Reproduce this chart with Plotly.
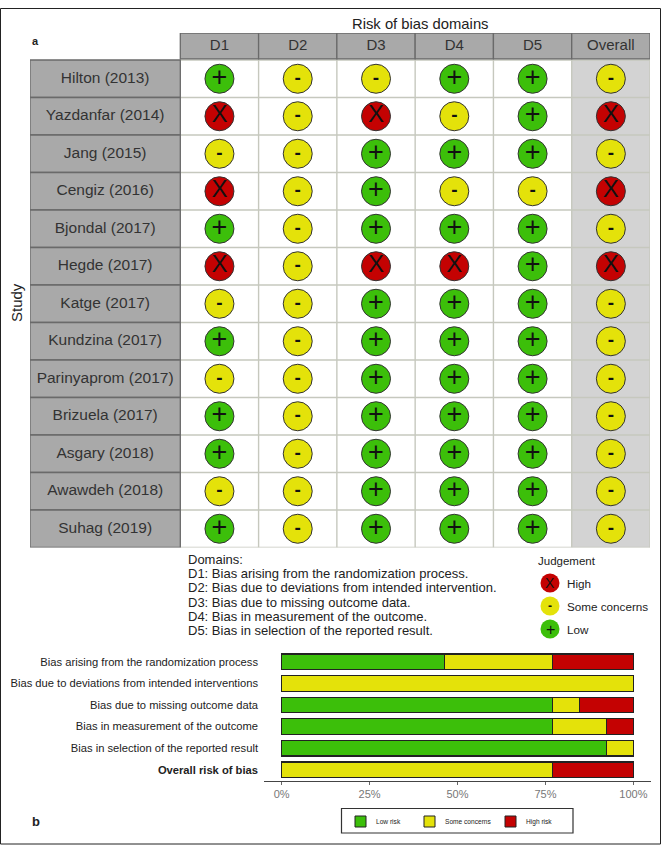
import plotly.graph_objects as go

studies = ["Hilton (2013)", "Yazdanfar (2014)", "Jang (2015)", "Cengiz (2016)", "Bjondal (2017)",
           "Hegde (2017)", "Katge (2017)", "Kundzina (2017)", "Parinyaprom (2017)", "Brizuela (2017)",
           "Asgary (2018)", "Awawdeh (2018)", "Suhag (2019)"]
domains = ["D1", "D2", "D3", "D4", "D5", "Overall"]
d1 = list("+X-X+X-+-++-+")
d2 = list("-------------")
d3 = list("-X+++X+++++++")
d4 = list("+-+-+X+++++++")
d5 = list("+++-+++++++++")
overall = list("-X-X-X-------")
judgements = [d1, d2, d3, d4, d5, overall]

bar_labels = ["Bias arising from the randomization process", "Bias due to deviations from intended interventions",
              "Bias due to missing outcome data", "Bias in measurement of the outcome",
              "Bias in selection of the reported result", "<b>Overall risk of bias</b>"]
low_risk = [46.2, 0, 76.9, 76.9, 92.3, 0]
some_concerns = [30.8, 100, 7.7, 15.4, 7.7, 76.9]
high_risk = [23.0, 0, 15.4, 7.7, 0, 23.1]
pct_ticks = [0, 25, 50, 75, 100]
pct_text = ["0%", "25%", "50%", "75%", "100%"]
domain_text = ["Domains:", "D1: Bias arising from the randomization process.",
               "D2: Bias due to deviations from intended intervention.",
               "D3: Bias due to missing outcome data.", "D4: Bias in measurement of the outcome.",
               "D5: Bias in selection of the reported result."]

W, H = 661, 845
GREEN, YELLOW, RED = "#3CBF0A", "#E4E20A", "#C40202"
FONT = "Liberation Sans"
px = lambda v: v / W
py = lambda v: 1 - v / H

fig = go.Figure()
shapes, annos = [], []

# grid panel geometry in axis units
STUDY_W = 1.92
HEAD_H = 0.72
x_lo, x_hi = -0.5 - STUDY_W, len(domains) - 0.5
y_top, y_bot = -0.5 - HEAD_H, len(studies) - 0.5

def rect(x0, x1, y0, y1, fill, line, lw=1.2, layer="below"):
    shapes.append(dict(type="rect", xref="x", yref="y", x0=x0, x1=x1, y0=y0, y1=y1,
                       fillcolor=fill, line=dict(color=line, width=lw), layer=layer))

# overall column background
rect(len(domains) - 1.5, x_hi, -0.5, y_bot, "#D3D3D3", "#D3D3D3", 0)
# row and column lines
for i in range(len(studies) + 1):
    shapes.append(dict(type="line", xref="x", yref="y", x0=-0.5, x1=x_hi, y0=i - 0.5, y1=i - 0.5,
                       line=dict(color="#C6C8BE", width=1.4), layer="below"))
for j in range(len(domains) + 1):
    shapes.append(dict(type="line", xref="x", yref="y", x0=j - 0.5, x1=j - 0.5, y0=-0.5, y1=y_bot,
                       line=dict(color="#C6C8BE", width=1.4), layer="below"))
# study and header cells
for i in range(len(studies)):
    rect(x_lo, -0.5, i - 0.5, i + 0.5, "#A9A9A9", "#6A6A6A", 1.3)
for j in range(len(domains)):
    rect(j - 0.5, j + 0.5, y_top, -0.53, "#A9A9A9", "#6A6A6A", 1.3)

fig.add_trace(go.Scatter(x=[x_lo + STUDY_W / 2] * len(studies), y=list(range(len(studies))), text=studies,
                         mode="text", textfont=dict(family=FONT, size=15.5, color="#333333"),
                         hoverinfo="skip", showlegend=False, xaxis="x", yaxis="y"))
fig.add_trace(go.Scatter(x=list(range(len(domains))), y=[y_top + HEAD_H / 2 - 0.02] * len(domains), text=domains,
                         mode="text", textfont=dict(family=FONT, size=15, color="#333333"),
                         hoverinfo="skip", showlegend=False, xaxis="x", yaxis="y"))

for sym, col, fsize, label in [("+", GREEN, 27, "+"), ("-", YELLOW, 19, "<b>-</b>"), ("X", RED, 24, "X")]:
    xs, ys = [], []
    for j, colvals in enumerate(judgements):
        for i, v in enumerate(colvals):
            if v == sym:
                xs.append(j)
                ys.append(i)
    fig.add_trace(go.Scatter(x=xs, y=ys, mode="markers+text", text=[label] * len(xs), textposition="middle center",
                             marker=dict(size=29, color=col, line=dict(color="#333333", width=1)),
                             textfont=dict(family=FONT, size=fsize, color="#111111"),
                             showlegend=False, xaxis="x", yaxis="y"))

# stacked bars
for name, vals, col in [("Low risk", low_risk, GREEN), ("Some concerns", some_concerns, YELLOW), ("High risk", high_risk, RED)]:
    fig.add_trace(go.Bar(x=vals, y=bar_labels, orientation="h", name=name, marker=dict(color=col, line=dict(color="#222222", width=1.2)),
                         width=0.72, showlegend=False, xaxis="x2", yaxis="y2"))

fig.update_layout(
    width=W, height=H, margin=dict(l=0, r=0, t=0, b=0), paper_bgcolor="white", plot_bgcolor="white",
    barmode="stack", bargap=0.28, font=dict(family=FONT, color="#222222"),
    xaxis=dict(domain=[px(30), px(650)], range=[x_lo, x_hi], visible=False, fixedrange=True),
    yaxis=dict(domain=[py(547.5), py(33)], range=[y_bot, y_top], visible=False, fixedrange=True),
    xaxis2=dict(domain=[px(264), px(651)], range=[-5, 105], anchor="y2", tickvals=pct_ticks, ticktext=pct_text,
                tickfont=dict(size=11, color="#777777"), showgrid=False, zeroline=False, showline=True,
                linecolor="#444444", linewidth=1.2, ticks="outside", ticklen=3, tickcolor="#666666"),
    yaxis2=dict(domain=[py(780.5), py(651)], autorange="reversed", anchor="x2", showgrid=False, zeroline=False,
                tickfont=dict(size=11.2, color="#222222"), ticks="", showline=False, ticklabelstandoff=5),
)

def text(x, y, t, size, color="#222222", anchor="left", **kw):
    annos.append(dict(xref="paper", yref="paper", x=px(x), y=py(y), text=t, showarrow=False, xanchor=anchor,
                      yanchor="middle", font=dict(family=FONT, size=size, color=color), **kw))

# outer frame
shapes.append(dict(type="rect", xref="paper", yref="paper", x0=px(0.5), x1=px(660.5), y0=py(844), y1=py(8.5),
                   line=dict(color="#222222", width=1)))
text(420, 24, "Risk of bias domains", 14.8, anchor="center")
text(17, 303, "Study", 15, anchor="center", textangle=-90)
text(30, 41, "<b>a</b>", 11)
text(30, 821, "<b>b</b>", 13)
for k, t in enumerate(domain_text):
    text(186, 559.5 + k * 14.2, t, 13)

# judgement key
text(536, 561, "Judgement", 11.5)
for y, col, sym, lab, sz in [(583, RED, "X", "High", 14), (606, YELLOW, "<b>-</b>", "Some concerns", 12), (629, GREEN, "+", "Low", 16)]:
    shapes.append(dict(type="circle", xref="paper", yref="paper", x0=px(540.5), x1=px(559.5), y0=py(y + 9.5), y1=py(y - 9.5),
                       fillcolor=col, line=dict(width=0)))
    text(550, y, sym, sz, color="#111111", anchor="center")
    text(565, y, lab, 11.7)

# bar key
shapes.append(dict(type="rect", xref="paper", yref="paper", x0=px(341.5), x1=px(573), y0=py(833), y1=py(808.5),
                   line=dict(color="#333333", width=1.2)))
for x, col, lab in [(355, GREEN, "Low risk"), (424, YELLOW, "Some concerns"), (505, RED, "High risk")]:
    shapes.append(dict(type="rect", xref="paper", yref="paper", x0=px(x), x1=px(x + 11), y0=py(827), y1=py(816),
                       fillcolor=col, line=dict(color="#222222", width=1)))
    text(x + 19, 821.5, lab, 6.6)

fig.update_layout(shapes=shapes, annotations=annos)
fig.write_html("out.html", config=dict(displayModeBar=False),
               post_script="document.body.style.margin='0';document.documentElement.style.overflow='hidden';")
